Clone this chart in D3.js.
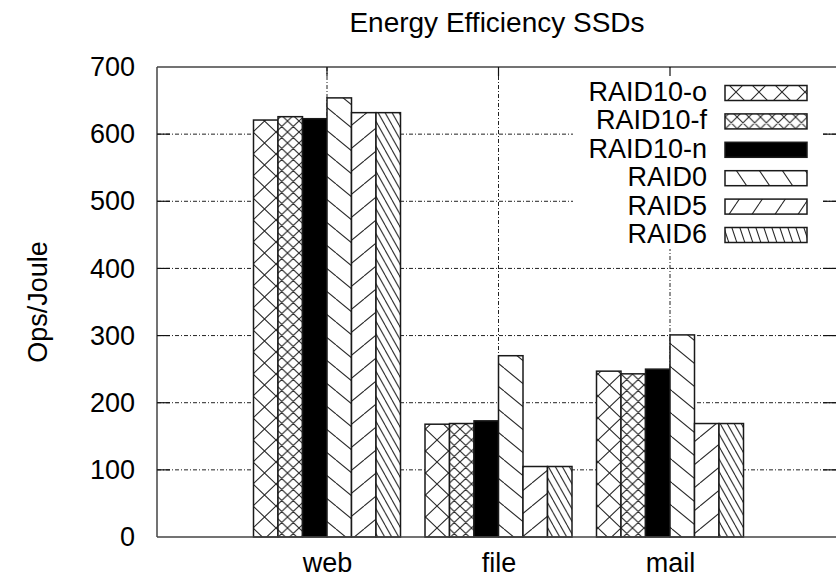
<!DOCTYPE html>
<html><head><meta charset="utf-8">
<script src="https://cdn.jsdelivr.net/npm/d3@7"></script>
<style>
body{margin:0;background:#fff}
text{font-family:"Liberation Sans",Arial,Helvetica,sans-serif;fill:#000}
</style>
</head><body><svg id="chart" width="836" height="579"></svg>
<script>
// ---- data ----
const categories = ["web", "file", "mail"];
const seriesNames = ["RAID10-o", "RAID10-f", "RAID10-n", "RAID0", "RAID5", "RAID6"];
const raid10o = [621, 168, 247];
const raid10f = [626, 169, 243];
const raid10n = [623, 173, 250];
const raid0   = [654, 270, 301];
const raid5   = [632, 105, 169];
const raid6   = [632, 105, 169];
const yTicks = [0, 100, 200, 300, 400, 500, 600, 700];
const chartTitle = "Energy Efficiency SSDs";
const yLabel = "Ops/Joule";

const seriesValues = [raid10o, raid10f, raid10n, raid0, raid5, raid6];

(function () {
// ---- layout ----
const svg = d3.select("#chart");
const pL = 157, pR = 840, pT = 67, pB = 537;
const y = d3.scaleLinear().domain([0, 700]).range([pB, pT]);
const x = d3.scaleLinear().domain([0, 2]).range([327, 670]);
const unit = x(1) - x(0);
const barW = unit / 7;

// ---- patterns ----
const defs = svg.append("defs");
function makePattern(id, type, px, py) {
  const p = defs.append("pattern").attr("id", id)
    .attr("patternUnits", "userSpaceOnUse").attr("width", px).attr("height", py);
  p.append("rect").attr("width", px).attr("height", py).attr("fill", "#fff");
  if (type === "solid") { p.select("rect").attr("fill", "#000"); return; }
  let d = "";
  if (type === "back" || type === "cross") {
    d += `M0,0L${px},${py}M${-px},0L0,${py}M${px},0L${2*px},${py}`;
  }
  if (type === "fwd" || type === "cross") {
    d += `M0,${py}L${px},0M${-px},${py}L0,0M${px},${py}L${2*px},0`;
  }
  p.append("path").attr("d", d).attr("stroke", "#2a2a2a").attr("stroke-width", 1.1).attr("fill", "none");
}
const barPat = [["cross",23,22],["cross",11.5,11],["solid",10,10],["back",28,23],["fwd",28,23],["back",7,12.5]];
const legPat = [["cross",23,23],["cross",11.7,11.7],["solid",10,10],["back",23,34],["fwd",23,34],["back",8,24]];
barPat.forEach((p, i) => makePattern("bp" + i, p[0], p[1], p[2]));
legPat.forEach((p, i) => makePattern("lp" + i, p[0], p[1], p[2]));

// ---- grid ----
const dash = "4,2,1,2";
svg.append("g").selectAll("line").data(yTicks.filter(t => t > 0 && t < 700)).join("line")
  .attr("x1", pL).attr("x2", pR).attr("y1", d => y(d)).attr("y2", d => y(d))
  .attr("stroke", "#222").attr("stroke-width", 1).attr("stroke-dasharray", dash);
svg.append("g").selectAll("line").data(categories).join("line")
  .attr("x1", (d, i) => x(i)).attr("x2", (d, i) => x(i)).attr("y1", pT).attr("y2", pB)
  .attr("stroke", "#222").attr("stroke-width", 1).attr("stroke-dasharray", dash);

// ---- bars ----
seriesValues.forEach((vals, s) => {
  svg.append("g").selectAll("rect").data(vals).join("rect")
    .attr("x", (d, i) => x(i + (s - 2.5) / 7) - barW / 2)
    .attr("width", barW)
    .attr("y", d => y(d))
    .attr("height", d => y(0) - y(d))
    .attr("fill", `url(#bp${s})`)
    .attr("stroke", "#1a1a1a").attr("stroke-width", 1.5);
});

// ---- legend ----
svg.append("rect").attr("x", 573).attr("y", pT + 1).attr("width", 249).attr("height", 181).attr("fill", "#fff");
const lg = svg.append("g");
seriesNames.forEach((name, i) => {
  const cy = 93 + i * 28.4;
  lg.append("text").attr("x", 707).attr("y", cy - 1).attr("text-anchor", "end")
    .attr("dominant-baseline", "central").attr("font-size", 27).text(name);
  lg.append("rect").attr("x", 725).attr("y", cy - 7.5).attr("width", 82).attr("height", 15)
    .attr("fill", `url(#lp${i})`).attr("stroke", "#1a1a1a").attr("stroke-width", 1.5);
});

// ---- frame and ticks ----
const fc = "#444";
svg.append("line").attr("x1", pL).attr("x2", pR).attr("y1", pT).attr("y2", pT).attr("stroke", fc).attr("stroke-width", 1.5);
svg.append("line").attr("x1", pL).attr("x2", pR).attr("y1", pB).attr("y2", pB).attr("stroke", fc).attr("stroke-width", 1.5);
svg.append("line").attr("x1", pL).attr("x2", pL).attr("y1", pT).attr("y2", pB).attr("stroke", fc).attr("stroke-width", 1.5);
svg.append("line").attr("x1", pR).attr("x2", pR).attr("y1", pT).attr("y2", pB).attr("stroke", fc).attr("stroke-width", 1.5);

const yAxis = d3.axisLeft(y).tickValues(yTicks).tickSize(0).tickPadding(22);
const ya = svg.append("g").attr("transform", `translate(${pL},0)`).call(yAxis);
ya.select(".domain").remove();
ya.selectAll("text").attr("font-size", 27).attr("font-family", '"Liberation Sans",Arial,sans-serif').attr("fill", "#000");

svg.append("g").selectAll("line").data(yTicks.filter(t => t > 0 && t < 700)).join("line")
  .attr("x1", pL).attr("x2", pL + 13).attr("y1", d => y(d)).attr("y2", d => y(d)).attr("stroke", "#111").attr("stroke-width", 1.2);
svg.append("g").selectAll("line").data(yTicks.filter(t => t > 0 && t < 700)).join("line")
  .attr("x1", pR - 17).attr("x2", pR).attr("y1", d => y(d)).attr("y2", d => y(d)).attr("stroke", "#111").attr("stroke-width", 1.2);
svg.append("g").selectAll("line").data(categories).join("line")
  .attr("x1", (d, i) => x(i)).attr("x2", (d, i) => x(i)).attr("y1", pT).attr("y2", pT + 9).attr("stroke", "#111").attr("stroke-width", 1.2);

const xAxis = d3.axisBottom(x).tickValues([0, 1, 2]).tickFormat(i => categories[i]).tickSize(0).tickPadding(16);
const xa = svg.append("g").attr("transform", `translate(0,${pB})`).call(xAxis);
xa.select(".domain").remove();
xa.selectAll("text").attr("font-size", 27).attr("font-family", '"Liberation Sans",Arial,sans-serif').attr("fill", "#000");

// ---- titles ----
svg.append("text").attr("x", 497).attr("y", 32).attr("text-anchor", "middle").attr("font-size", 28).text(chartTitle);
svg.append("text").attr("transform", "translate(47,302) rotate(-90)").attr("text-anchor", "middle")
  .attr("font-size", 27).text(yLabel);
})();
</script></body></html>
